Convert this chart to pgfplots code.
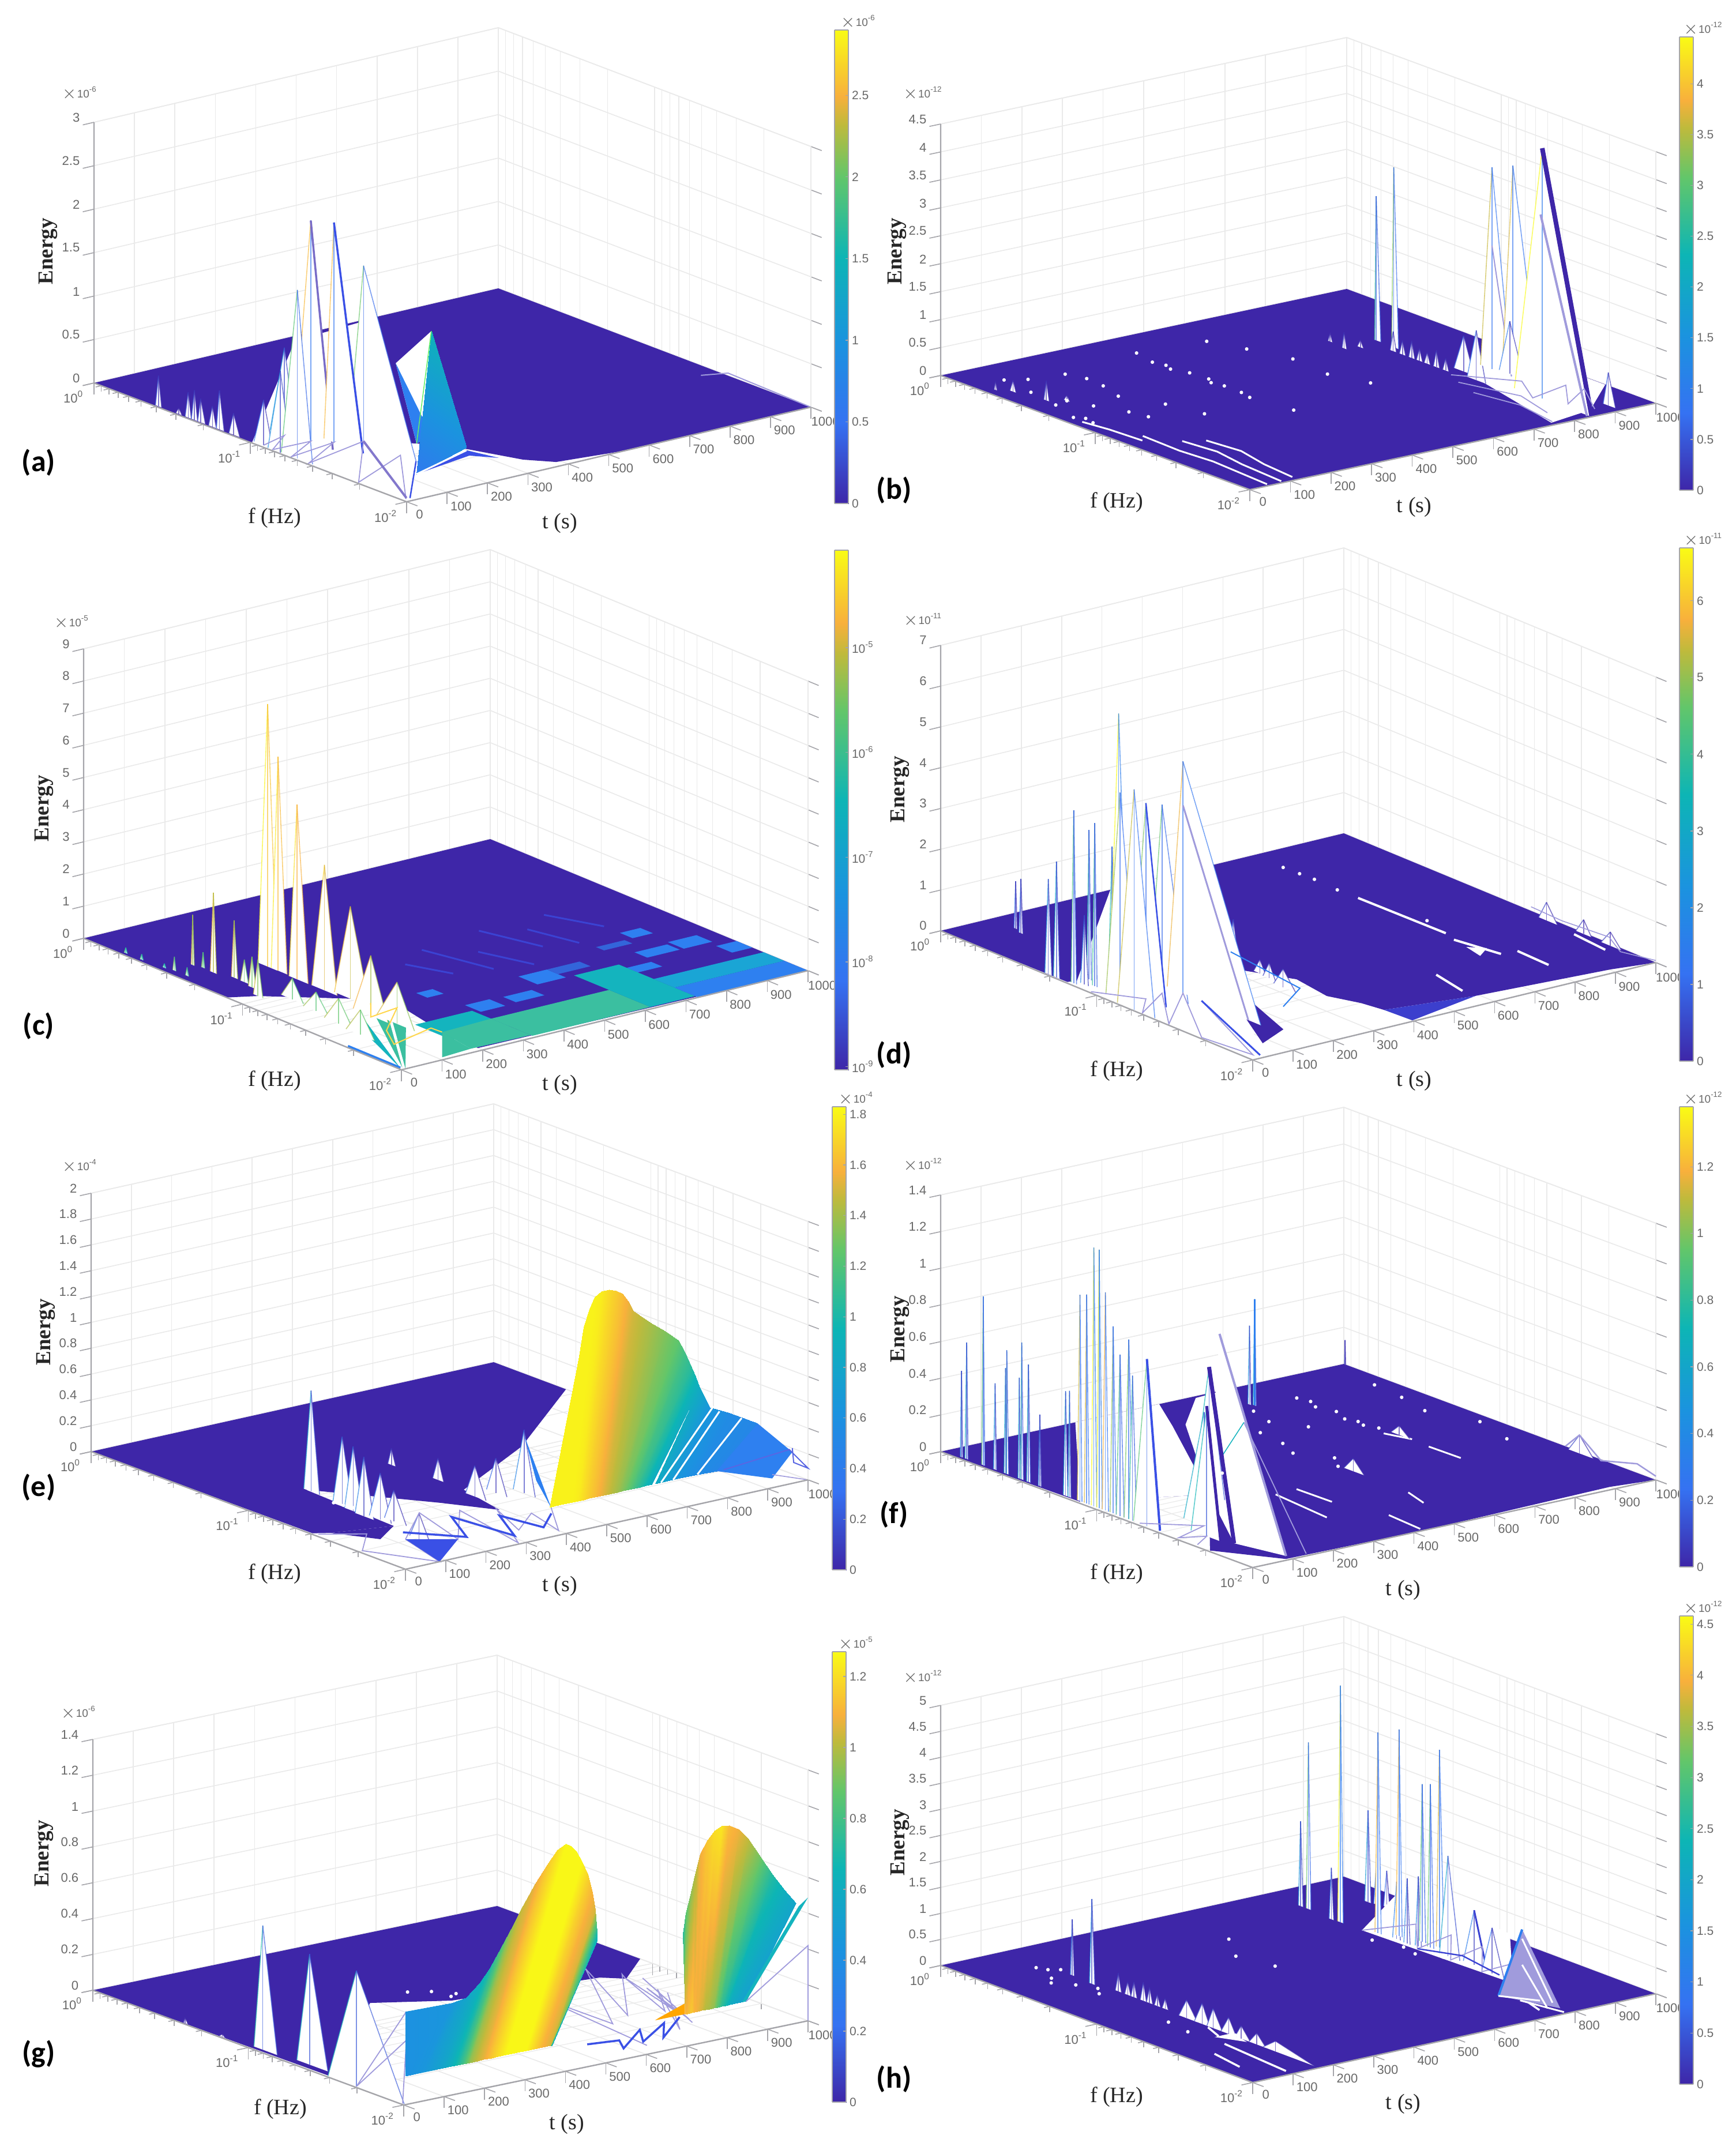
\documentclass[border=0pt]{standalone}
\usepackage{fontspec}
\setmainfont{Liberation Sans}
\newfontfamily\labelfont{Liberation Serif}
\newfontfamily\tagfont{Carlito}
\usepackage{pgfplots}
\pgfplotsset{compat=1.18}
\def\u{0.2pt}
\definecolor{base}{RGB}{62,38,168}
\definecolor{tickgray}{RGB}{105,105,105}
\definecolor{linegray}{RGB}{165,165,170}
\definecolor{gridgray}{RGB}{234,234,234}
\definecolor{lav}{RGB}{160,155,220}
\definecolor{bl}{RGB}{58,80,230}
\definecolor{cgreen}{RGB}{59,191,160}
\definecolor{cteal}{RGB}{20,180,190}
\definecolor{ccyan}{RGB}{26,165,213}
\definecolor{cblue}{RGB}{46,128,240}
\pgfplotsset{
  colormap={parula}{rgb255(0cm)=(62,38,168) rgb255(17cm)=(53,114,242) rgb255(34cm)=(27,147,223)
    rgb255(52cm)=(13,181,181) rgb255(69cm)=(98,198,106) rgb255(80cm)=(191,186,60)
    rgb255(86cm)=(248,176,60) rgb255(100cm)=(249,251,21)},
  panel/.style={
    colormap name=parula, clip=false,
    ymin=-2, ymax=0, xmin=0, xmax=1000, zmin=0,
    ytick={-2,-1,0}, yticklabels={10\textsuperscript{-2},10\textsuperscript{-1},10\textsuperscript{0}},
    minor ytick={-1.699,-1.523,-1.398,-1.301,-1.222,-1.155,-1.097,-1.046,-0.699,-0.523,-0.398,-0.301,-0.222,-0.155,-0.097,-0.046},
    xtick={0,100,...,1000},
    grid=major, yminorgrids=true,
    grid style={gridgray, line width=1.6*\u},
    minor grid style={gridgray, line width=1.2*\u},
    axis line style={gridgray, line width=1.6*\u},
    tick style={linegray, line width=1.6*\u},
    tick align=outside, major tick length=20*\u, minor tick length=10*\u,
    tick label style={font=\fontsize{4.4}{5}\selectfont, text=tickgray, inner sep=1pt},
    x tick label style={xshift=-1.2pt},
    /pgf/number format/assume math mode=true,
    /pgf/number format/1000 sep={},
    tick pos=left,
  },
  finline/.style={line width=1.6*\u, opacity=0.65},
}
% heights of the edge colours
\newcommand{\lmeta}[1]{#1}
\newcommand{\rmeta}[1]{#1*0.22}
% one spike: t, f left, f at peak, f right (log10 of f), energy
\newcommand{\fin}[5]{%
  \addplot3[fill=white, draw=none, forget plot] coordinates {(#1,#2,0) (#1,#3,#5) (#1,#4,0)};
  \addplot3[mesh, finline, point meta=\lmeta{#5}, forget plot] coordinates {(#1,#2,0) (#1,#3,#5)};
  \addplot3[mesh, finline, point meta=\rmeta{#5}, forget plot] coordinates {(#1,#3,0) (#1,#3,#5) (#1,#4,0)};
}
\newcommand{\poly}[2]{\addplot3[fill=#1, draw=none, forget plot] coordinates {#2};}
\newcommand{\seg}[3]{\addplot3[draw=#1, line width=#2*\u, forget plot] coordinates {#3};}
\newcommand{\specks}[1]{\addplot3[only marks, mark=*, mark size=2*\u, white, forget plot] coordinates {#1};}
\newcommand{\sheet}[1]{\addplot3[surf, shader=interp, point meta=explicit, mesh/rows=2, forget plot] coordinates {#1};}
\newcommand{\gtri}[1]{\addplot3[patch, patch type=triangle, shader=interp, point meta=explicit, forget plot] coordinates {#1};}
\newcommand{\cell}[5]{\poly{#1}{(#2,#4,0) (#3,#4,0) (#3,#5,0) (#2,#5,0)}}
\newcommand{\frontaxes}[1]{%
  \seg{linegray}{2.4}{(1000,-2,0) (0,-2,0) (0,0,0) (0,0,#1)}}
% colour bar: x, top, bottom, min, max, options
\newcommand{\cbar}[6]{%
  \pgfmathsetlengthmacro\cbh{(#3-#2)*0.2pt}
  \begin{axis}[at={(#1*\u,-#3*\u)}, anchor=south west, scale only axis, width=24*\u, height=\cbh,
    view={0}{90}, colormap name=parula, xmin=0, xmax=1, ymin=#4, ymax=#5, xtick=\empty, enlargelimits=false,
    axis line style={linegray, line width=1.4*\u}, tick style={linegray, line width=1.2*\u},
    ytick pos=right, yticklabel pos=right, tick align=inside, major tick length=5*\u,
    tick label style={font=\fontsize{4.2}{5}\selectfont, text=tickgray, inner sep=1pt},
    /pgf/number format/assume math mode=true, point meta min=#4, point meta max=#5, #6]
    \addplot3[surf, shader=interp, point meta=y] coordinates {(0,#4,0) (1,#4,0)

    (0,#5,0) (1,#5,0)};
  \end{axis}}
\newcommand{\lab}[6]{% energy x y, f x y, t x y
  \node[rotate=90, font=\fontsize{7.4}{8}\selectfont\labelfont\bfseries, text=black!85] at (#1*\u,-#2*\u) {Energy};
  \node[font=\fontsize{7.6}{8}\selectfont\labelfont, text=black!85] at (#3*\u,-#4*\u) {f (Hz)};
  \node[font=\fontsize{7.6}{8}\selectfont\labelfont, text=black!85] at (#5*\u,-#6*\u) {t (s)};}
\newcommand{\ptag}[3]{\node[font=\fontsize{10.4}{11}\selectfont\tagfont\bfseries] at (#1*\u,-#2*\u) {#3};}
\newcommand{\expo}[3]{\node[font=\fontsize{3.8}{4}\selectfont, text=tickgray] at (#1*\u,-#2*\u) {$\times$10\textsuperscript{#3}};}
\begin{document}
\begin{tikzpicture}
\path[use as bounding box, fill=white] (0,0) rectangle (3010*\u,-3735*\u);
% ---------------------- (a)
\begin{axis}[panel, at={(163*\u,-48*\u)}, anchor=north west,
  x={(0.701*\u,0.164*\u)}, y={(-271*\u,103*\u)}, z={(0,150.67*\u)}, zmax=3,
  ztick={0,0.5,1,1.5,2,2.5,3}, point meta min=0, point meta max=2.9]
\poly{base}{(0,0,0) (1000,0,0) (1000,-2,0) (540,-2,0) (389,-1.95,0) (348,-1.845,0) (305,-1.6,0) (250,-1.417,0) (178,-1.264,0) (97,-1.136,0) (80,-1.011,0) (0,-1,0)}
\seg{lav}{2}{(960,-1.4,0) (1000,-1.47,0.03) (1000,-2,0)}
\poly{white}{(478,-0.05,0) (685,-0.01,0) (178,-1.6,0) (5,-1.98,0) (5,-1.0,0)}
\poly{bl}{(127,-1.736,0) (299,-1.61,0) (318,-1.768,0) (282,-1.672,0)}
\poly{white}{(200,-1.413,0.975) (305,-1.369,1.2) (305,-1.369,0) (250,-1.417,0)}
\poly{cblue}{(200,-1.413,0.975) (250,-1.417,0) (305,-1.369,0)}
\gtri{(305,-1.369,1.2) [1.45] (310,-1.581,0) [0.95] (127,-1.736,0) [0.6]
 (305,-1.369,1.2) [1.45] (127,-1.736,0) [0.6] (305,-1.369,0) [0.85]}
\seg{white}{3}{(299,-1.61,0) (127,-1.736,0)}
\seg{black!10!green!60!white}{1.5}{(305,-1.369,1.2) (250,-1.417,0)}
\fin{5}{-0.38}{-0.40}{-0.42}{0.35}
\fin{5}{-0.51}{-0.53}{-0.55}{0.07}
\fin{5}{-0.57}{-0.59}{-0.61}{0.29}
\fin{5}{-0.61}{-0.63}{-0.65}{0.34}
\fin{5}{-0.65}{-0.67}{-0.70}{0.27}
\fin{5}{-0.72}{-0.745}{-0.77}{0.235}
\fin{5}{-0.77}{-0.79}{-0.82}{0.447}
\fin{5}{-0.85}{-0.88}{-0.92}{0.247}
\fin{80}{-0.92}{-1.011}{-1.09}{1.01}
\fin{97}{-1.03}{-1.136}{-1.277}{2.54}
\seg{lav!60!base}{3.5}{(97,-1.136,2.54) (97,-1.277,0)}
\fin{178}{-1.17}{-1.264}{-1.6}{2.02}
\fin{128}{-1.14}{-1.204}{-1.39}{2.53}
\seg{bl}{3.5}{(128,-1.204,2.53) (128,-1.39,0)}
\fin{9}{-1.0}{-1.062}{-1.12}{0.52}
\fin{5}{-1.1}{-1.179}{-1.25}{0.94}
\fin{7}{-1.18}{-1.283}{-1.38}{1.94}
\seg{lav}{1.8}{(9,-1.062,0) (80,-1.011,0) (5,-1.13,0) (97,-1.136,0) (5,-1.25,0) (128,-1.204,0) (5,-1.36,0) (178,-1.264,0) (5,-1.68,0) (178,-1.5,0) (10,-1.97,0)}
\seg{lav!70!base}{4}{(178,-1.264,0) (15,-1.96,0)}
\seg{bl}{2.5}{(178,-1.6,0) (20,-1.97,0)}
\frontaxes{3}
\end{axis}
\cbar{1447}{52}{873}{0}{2.9}{ytick={0,0.5,1,1.5,2,2.5}}
\expo{1488}{38}{-6}\expo{138}{162}{-6}
\lab{83}{436}{476}{898}{971}{907}\ptag{67}{802}{(a)}
% ---------------------- (b)
\begin{axis}[panel, at={(1631*\u,-65*\u)}, anchor=north west,
  x={(0.704*\u,0.150*\u)}, y={(-268*\u,99*\u)}, z={(0,96.9*\u)}, zmax=4.5,
  ztick={0,0.5,1,1.5,2,2.5,3,3.5,4,4.5}, point meta min=0, point meta max=4.46]
\poly{base}{(0,0,0) (1000,0,0) (1000,-2,0) (0,-2,0)}
\poly{white}{(1000,-0.78,0) (999,-1.675,0) (869,-1.92,0) (754,-1.97,0) (830,-1.25,0) (1000,-0.95,0)}
\poly{base}{(1000,-1.72,0) (1000,-2,0) (930,-1.97,0)}
\specks{(401,-0.214,0) (387,-0.353,0) (386,-0.473,0) (404,-0.673,0) (399,-0.787,0) (390,-0.975,0) (405,-1.22,0) (395,-0.42,0) (400,-0.56,0) (392,-0.72,0) (398,-0.9,0)
 (200,-0.28,0) (210,-0.5,0) (190,-0.65,0) (230,-0.85,0) (250,-1.05,0) (215,-0.38,0) (560,-0.25,0) (590,-0.43,0) (620,-0.65,0) (610,-0.9,0) (640,-1.1,0) (90,-0.58,0) (38,-0.886,0) (45,-0.82,0) (30,-0.78,0) (120,-0.25,0) (80,-0.2,0) (70,-0.4,0) (55,-0.6,0) (110,-0.7,0) (140,-0.85,0) (150,-0.95,0)}
\seg{white}{3}{(60,-1.15,0) (55,-1.4,0) (62,-1.6,0) (50,-1.98,0)

(100,-1.3,0) (110,-1.5,0) (95,-1.7,0) (85,-1.98,0)

(140,-1.35,0) (150,-1.55,0) (130,-1.75,0) (120,-1.96,0)

(25,-0.85,0) (35,-1.0,0) (40,-1.2,0)}
\fin{60}{-0.51}{-0.526}{-0.545}{0.35}
\fin{45}{-0.33}{-0.35}{-0.37}{0.2}
\fin{25}{-0.28}{-0.29}{-0.30}{0.15}
\fin{90}{-0.56}{-0.58}{-0.60}{0.1}
\fin{752}{-0.53}{-0.544}{-0.56}{0.15}
\fin{745}{-0.64}{-0.653}{-0.67}{0.285}
\fin{775}{-0.66}{-0.68}{-0.70}{0.13}
\fin{829}{-0.63}{-0.64}{-0.67}{2.58}
\fin{827}{-0.745}{-0.759}{-0.79}{3.22}
\fin{810}{-0.78}{-0.80}{-0.82}{0.35}
\fin{810}{-0.84}{-0.86}{-0.88}{0.25}
\fin{810}{-0.90}{-0.92}{-0.94}{0.3}
\fin{810}{-0.95}{-0.97}{-0.99}{0.22}
\fin{810}{-1.0}{-1.02}{-1.04}{0.2}
\fin{810}{-1.06}{-1.08}{-1.10}{0.3}
\fin{810}{-1.12}{-1.14}{-1.16}{0.22}
\fin{834}{-1.13}{-1.193}{-1.26}{0.64}
\fin{817}{-1.26}{-1.319}{-1.38}{0.89}
\fin{916}{-1.88}{-1.913}{-1.96}{0.59}
\fin{888}{-1.16}{-1.234}{-1.36}{3.61}
\seg{lav}{2}{(888,-1.234,2.21) (888,-1.36,0)}
\fin{911}{-1.24}{-1.309}{-1.48}{3.68}
\fin{896}{-1.26}{-1.328}{-1.42}{0.94}
\fin{842}{-1.5}{-1.68}{-2}{4.48}
\seg{base}{8}{(842,-1.68,4.48) (842,-2,0)}
\seg{lav}{4}{(838,-1.68,3.3) (838,-1.98,0)}
\seg{lav}{1.8}{(800,-1.2,0) (860,-1.5,0.1) (830,-1.65,0) (900,-1.68,0.15) (860,-1.8,0) (930,-1.72,0.08) (880,-1.92,0)

(780,-1.3,0) (820,-1.6,0) (790,-1.85,0)

(760,-1.45,0) (780,-1.7,0) (760,-1.96,0)}
\frontaxes{4.5}
\end{axis}
\cbar{2912}{64}{850}{0}{4.46}{ytick={0,0.5,1,1.5,2,2.5,3,3.5,4}}
\expo{2953}{50}{-12}\expo{1600}{162}{-12}
\lab{1555}{436}{1936}{871}{2452}{879}\ptag{1550}{850}{(b)}
% ---------------------- (c)
\begin{axis}[panel, at={(145*\u,-953*\u)}, anchor=north west,
  x={(0.705*\u,0.172*\u)}, y={(-275.5*\u,114*\u)}, z={(0,55.78*\u)}, zmax=9,
  ztick={0,1,2,3,4,5,6,7,8,9}, point meta min=-9.03, point meta max=-4.07]
\renewcommand{\lmeta}[1]{log10(#1)-5.05}
\renewcommand{\rmeta}[1]{log10(#1)-5.5}
\poly{base}{(0,0,0) (1000,0,0) (1000,-2,0) (200,-1.97,0) (204,-1.734,0) (232,-1.436,0) (187,-1.2,0) (54,-0.959,0) (0,-0.9,0)}
\cell{cblue}{530}{600}{-1.5}{-1.38}
\cell{cblue}{430}{500}{-1.62}{-1.54}
\cell{cblue}{340}{400}{-1.63}{-1.53}
\cell{cblue}{730}{790}{-1.62}{-1.55}
\cell{cblue}{800}{880}{-1.5}{-1.42}
\cell{cblue}{890}{960}{-1.5}{-1.4}
\cell{cblue}{950}{1000}{-1.65}{-1.55}
\cell{cblue}{850}{900}{-1.28}{-1.2}
\cell{cblue}{310}{350}{-1.37}{-1.3}
\cell{cblue!70!base}{600}{680}{-1.45}{-1.38}
\cell{cblue!70!base}{760}{830}{-1.33}{-1.28}
\seg{bl!70!base}{3}{(400,-1.0,0) (440,-1.2,0)

(480,-0.9,0) (520,-1.25,0)

(560,-1.05,0) (600,-1.3,0)

(640,-0.85,0) (680,-1.15,0)

(720,-0.95,0) (750,-1.2,0)

(800,-0.85,0) (850,-1.1,0)}
\cell{cteal}{190}{330}{-1.83}{-1.6}
\cell{cgreen}{330}{620}{-1.98}{-1.72}
\cell{cteal}{620}{730}{-1.98}{-1.5}
\cell{cblue}{730}{1000}{-2}{-1.85}
\cell{ccyan}{730}{1000}{-1.85}{-1.72}
\poly{cgreen}{(204,-1.734,0) (110,-1.975,0) (186,-1.96,0)}
\poly{cgreen}{(186,-1.96,0) (204,-1.734,0) (330,-1.72,0) (330,-1.97,0)}
\poly{cgreen}{(10,-2,0) (206,-1.397,0) (232,-1.436,0)}
\poly{cgreen}{(10,-1.98,0) (163,-1.417,0) (192,-1.418,0)}
\poly{cteal}{(5,-1.98,0) (102,-1.452,0) (127,-1.448,0)}
\seg{cblue}{5}{(5,-1.65,0) (5,-1.98,0)}
\fin{10}{-0.23}{-0.24}{-0.25}{0.17}
\fin{10}{-0.33}{-0.34}{-0.35}{0.17}
\fin{15}{-0.46}{-0.47}{-0.48}{0.13}
\fin{20}{-0.51}{-0.52}{-0.53}{0.43}
\fin{20}{-0.59}{-0.60}{-0.61}{0.26}
\fin{69}{-0.50}{-0.51}{-0.52}{1.56}
\fin{75}{-0.55}{-0.56}{-0.57}{0.48}
\fin{179}{-0.64}{-0.70}{-0.76}{8.16}
\fin{180}{-0.72}{-0.763}{-0.82}{6.65}
\fin{73}{-0.61}{-0.63}{-0.65}{2.48}
\fin{86}{-0.71}{-0.727}{-0.75}{1.78}
\fin{177}{-0.84}{-0.89}{-0.96}{5.43}
\fin{85}{-0.77}{-0.794}{-0.82}{0.7}
\fin{77}{-0.84}{-0.862}{-0.89}{0.955}
\fin{178}{-0.98}{-1.06}{-1.14}{3.9}
\fin{54}{-0.93}{-0.959}{-0.99}{1.13}
\fin{187}{-1.1}{-1.2}{-1.32}{2.87}
\fin{95}{-1.0}{-1.07}{-1.14}{0.65}
\fin{155}{-1.3}{-1.41}{-1.52}{1.87}
\fin{87}{-1.16}{-1.24}{-1.32}{0.6}
\fin{165}{-1.42}{-1.55}{-1.66}{1.3}
\fin{76}{-1.32}{-1.41}{-1.5}{0.78}
\fin{67}{-1.48}{-1.57}{-1.66}{0.78}
\seg{orange!45!yellow!70!white}{2}{(155,-1.41,0.4) (120,-1.5,0.25) (165,-1.55,0.5) (100,-1.65,0.2) (60,-1.8,0.2) (190,-1.7,0.1) (204,-1.734,0)}
\frontaxes{9}
\end{axis}
\renewcommand{\lmeta}[1]{#1}
\renewcommand{\rmeta}[1]{#1*0.22}
\cbar{1447}{954}{1855}{-9.03}{-4.07}{ytick={-9,-8,-7,-6,-5}, yticklabels={10\textsuperscript{-9},10\textsuperscript{-8},10\textsuperscript{-7},10\textsuperscript{-6},10\textsuperscript{-5}}}
\expo{124}{1079}{-5}
\lab{76}{1402}{476}{1874}{971}{1881}\ptag{67}{1779}{(c)}
% ---------------------- (d)
\begin{axis}[panel, at={(1631*\u,-950*\u)}, anchor=north west,
  x={(0.699*\u,0.169*\u)}, y={(-270.5*\u,112*\u)}, z={(0,70.71*\u)}, zmax=7,
  ztick={0,1,2,3,4,5,6,7}, point meta min=0, point meta max=6.69]
\poly{base}{(0,0,0) (1000,0,0) (1000,-2,0) (902,-1.96,0) (592,-1.9,0) (395,-1.82,0) (385,-1.7,0) (358,-1.55,0) (374,-1.315,0) (325,-1.107,0) (144,-1.18,0) (49,-0.82,0) (5,-0.8,0)}
\poly{white}{(421,0,0) (625,0,0) (43,-1.94,0) (5,-1.98,0) (5,-0.85,0)}
\poly{base}{(282,-1.024,0) (164,-1.773,0) (79,-1.86,0) (245,-1.165,0)}
\poly{bl!60!base}{(395,-1.82,0) (592,-1.9,0) (400,-1.99,0)}
\seg{white}{4}{(778,-0.665,0) (782,-1.217,0)

(827,-1.56,0) (823,-1.77,0)

(979,-1.53,0) (969,-1.756,0)

(770,-1.3,0) (790,-1.55,0)

(610,-1.6,0) (590,-1.82,0)}
\poly{white}{(762,-1.4,0) (790,-1.46,0) (750,-1.52,0)}
\specks{(776,-0.19,0) (778,-0.29,0) (780,-0.38,0) (776,-0.537,0) (440,-0.4,0) (450,-0.52,0) (800,-1.05,0)}
\fin{988}{-1.28}{-1.33}{-1.4}{0.445}
\fin{995}{-1.5}{-1.55}{-1.6}{0.35}
\fin{992}{-1.67}{-1.729}{-1.8}{0.34}
\seg{lav}{1.6}{(1000,-1.2,0.1) (980,-1.45,0.2) (1000,-1.7,0.15) (970,-1.85,0.1) (1000,-2,0.05)}
\fin{126}{-0.145}{-0.155}{-0.165}{1.16}
\fin{117}{-0.20}{-0.212}{-0.225}{1.33}
\fin{367}{-0.77}{-0.804}{-0.84}{1.75}
\fin{349}{-0.94}{-0.974}{-1.01}{0.99}
\fin{330}{-0.91}{-0.945}{-0.98}{0.51}
\fin{339}{-1.13}{-1.17}{-1.21}{0.34}
\fin{335}{-1.2}{-1.24}{-1.28}{0.38}
\fin{323}{-1.3}{-1.36}{-1.44}{0.45}
\fin{5}{-0.655}{-0.677}{-0.70}{2.33}
\fin{5}{-0.71}{-0.729}{-0.75}{2.84}
\fin{49}{-0.81}{-0.824}{-0.84}{3.66}
\fin{10}{-0.81}{-0.827}{-0.845}{4.24}
\fin{22}{-0.84}{-0.864}{-0.89}{1.7}
\fin{32}{-0.89}{-0.905}{-0.92}{4.0}
\fin{44}{-0.96}{-0.985}{-1.01}{3.52}
\fin{111}{-1.05}{-1.132}{-1.3}{4.62}
\fin{144}{-1.08}{-1.181}{-1.68}{5.68}
\seg{lav}{3}{(144,-1.181,4.6) (144,-1.6,0)}
\fin{39}{-0.98}{-1.04}{-1.1}{6.88}
\fin{23}{-1.0}{-1.09}{-1.2}{5.06}
\fin{64}{-1.06}{-1.15}{-1.28}{4.8}
\seg{bl}{2.5}{(64,-1.15,4.8) (64,-1.28,0)}
\fin{5}{-1.12}{-1.227}{-1.36}{5.4}
\seg{lav}{1.8}{(5,-0.95,0) (64,-1.15,0) (5,-1.28,0) (111,-1.132,0) (5,-1.45,0) (144,-1.181,0) (5,-1.66,0) (20,-1.95,0) (144,-1.3,0)}
\seg{bl}{3}{(144,-1.3,0) (30,-1.97,0)}
\seg{cblue}{2}{(282,-1.13,0.6) (330,-1.45,0.1) (250,-1.55,0)}
\frontaxes{7}
\end{axis}
\cbar{2912}{950}{1840}{0}{6.69}{ytick={0,1,2,3,4,5,6}}
\expo{2953}{936}{-11}\expo{1600}{1075}{-11}
\lab{1560}{1369}{1936}{1857}{2452}{1874}\ptag{1550}{1829}{(d)}
% ---------------------- (e)
\begin{axis}[panel, at={(158*\u,-1914*\u)}, anchor=north west,
  x={(0.698*\u,0.155*\u)}, y={(-272.5*\u,102*\u)}, z={(0,224*\u)}, zmax=2,
  ztick={0,0.2,0.4,0.6,0.8,1,1.2,1.4,1.6,1.8,2}, point meta min=0, point meta max=1.83]
\poly{base}{(0,0,0) (1000,0,0) (1000,-0.46,0) (693,-0.965,0) (422,-1.29,0) (394,-1.59,0) (332,-1.377,0) (176,-0.916,0) (162,-1.51,0) (35,-1.436,0) (5,-1.396,0)}
\poly{base}{(35,-1.436,0) (162,-1.51,0) (86,-1.62,0)}
\specks{(170,-1.17,0) (175,-1.22,0) (165,-1.12,0)}
\fin{177}{-0.9}{-0.946}{-1.0}{0.78}
\fin{413}{-0.83}{-0.853}{-0.88}{0.128}
\fin{423}{-1.09}{-1.124}{-1.16}{0.167}
\fin{163}{-1.12}{-1.18}{-1.25}{0.54}
\fin{161}{-1.2}{-1.255}{-1.32}{0.5}
\fin{156}{-1.28}{-1.336}{-1.4}{0.46}
\fin{168}{-1.34}{-1.41}{-1.48}{0.36}
\fin{182}{-1.4}{-1.46}{-1.54}{0.24}
\fin{411}{-1.33}{-1.389}{-1.46}{0.24}
\fin{459}{-1.34}{-1.40}{-1.47}{0.27}
\fin{502}{-1.4}{-1.469}{-1.54}{0.49}
\fin{147}{-1.65}{-1.71}{-1.78}{0.2}
\seg{lav}{1.8}{(125,-1.68,0) (257,-1.43,0) (207,-1.804,0) (330,-1.5,0) (286,-1.985,0) (392,-1.576,0) (340,-1.85,0) (430,-1.7,0) (400,-1.95,0) (483,-1.69,0)

(10,-1.42,0) (60,-1.6,0.05) (10,-1.7,0) (85,-2,0) (125,-1.68,0)}
\poly{bl}{(125,-1.68,0) (85,-2,0) (207,-1.804,0)}
\seg{bl}{3.5}{(150,-1.6,0) (230,-1.8,0) (290,-1.55,0) (310,-1.9,0) (370,-1.65,0) (390,-1.88,0) (460,-1.75,0)}
\poly{cblue}{(502,-1.469,0.45) (483,-1.69,0) (520,-1.5,0.1)}
\seg{cgreen}{1.5}{(548,-1.68,0.915) (483,-1.69,0)}
\sheet{(483,-1.68,0) [1.8] (497,-1.68,0) [1.8] (511,-1.68,0) [1.8] (525,-1.68,0) [1.8] (539,-1.68,0) [1.8] (553,-1.68,0) [1.78] (567,-1.68,0) [1.72] (581,-1.68,0) [1.67] (595,-1.68,0) [1.62] (609,-1.68,0) [1.56] (623,-1.68,0) [1.5] (637,-1.68,0) [1.45] (651,-1.68,0) [1.4] (665,-1.68,0) [1.33] (680,-1.68,0) [1.25] (694,-1.68,0) [1.15] (708,-1.68,0) [1.05] (722,-1.68,0) [0.95] (736,-1.68,0) [0.85]
 (548,-1.68,0.915) [1.8] (557,-1.68,1.138) [1.8] (568,-1.68,1.335) [1.8] (582,-1.68,1.467) [1.8] (595,-1.68,1.549) [1.8] (612,-1.68,1.582) [1.78] (630,-1.68,1.585) [1.72] (648,-1.68,1.562) [1.67] (664,-1.68,1.527) [1.62] (678,-1.68,1.459) [1.56] (691,-1.68,1.375) [1.5] (715,-1.68,1.306) [1.45] (740,-1.68,1.24) [1.4] (770,-1.68,1.165) [1.33] (802,-1.68,1.07) [1.25] (819,-1.68,0.969) [1.15] (836,-1.68,0.84) [1.05] (846,-1.68,0.759) [0.95] (856,-1.68,0.67) [0.85]}
\sheet{(745,-1.68,0) [0.85] (800,-1.68,0) [0.65] (850,-1.68,0) [0.55] (894,-1.69,0) [0.5]
 (856,-1.68,0.67) [0.85] (880,-1.68,0.5) [0.65] (930,-1.68,0.42) [0.55] (1000,-1.68,0.29) [0.5]}
\seg{white}{3}{(760,-1.68,0) (890,-1.68,0.5)

(790,-1.68,0) (905,-1.68,0.45)

(850,-1.68,0) (960,-1.68,0.36)}
\poly{cblue}{(894,-1.69,0) (1000,-1.68,0.29) (1000,-1.9,0.17) (950,-1.9,0)}
\seg{bl!70!lav}{2}{(900,-1.72,0.02) (1000,-1.88,0.18) (1000,-2,0.09) (980,-1.96,0.13) (1000,-1.9,0.2)}
\seg{lav}{1.6}{(950,-1.9,0.03) (1000,-2,0)}
\frontaxes{2}
\end{axis}
\cbar{1443}{1919}{2722}{0}{1.83}{ytick={0,0.2,0.4,0.6,0.8,1,1.2,1.4,1.6,1.8}}
\expo{1484}{1905}{-4}\expo{138}{2022}{-4}
\lab{79}{2310}{476}{2729}{971}{2750}\ptag{67}{2579}{(e)}
% ---------------------- (f)
\begin{axis}[panel, at={(1631*\u,-1920*\u)}, anchor=north west,
  x={(0.699*\u,0.152*\u)}, y={(-270.5*\u,100.5*\u)}, z={(0,317.9*\u)}, zmax=1.4,
  ztick={0,0.2,0.4,0.6,0.8,1,1.2,1.4}, point meta min=0, point meta max=1.38]
\poly{base}{(0,0,0) (1000,0,0) (1000,-2,0) (899,-1.967,0) (420,-2,0) (88,-1.985,0) (5,-1.714,0) (240,-1.1,0) (7,-0.876,0)}
\poly{white}{(334,0,0) (542,0,0) (470,-0.272,0) (240,-1.1,0) (7,-0.876,0)}
\poly{white}{(625,-0.02,0) (717,0,0) (266,-1.1,0) (240,-1.1,0) (497,-0.285,0)}
\poly{base}{(240,-1.1,0) (5,-1.714,0) (73,-1.692,0) (236,-1.143,0)}
\specks{(783,-0.259,0) (790,-0.33,0) (775,-0.4,0) (788,-0.5,0) (773,-0.712,0) (780,-0.66,0) (785,-0.78,0) (770,-0.6,0) (560,-0.4,0) (580,-0.55,0) (570,-0.72,0) (545,-0.85,0) (590,-1.0,0) (560,-1.1,0) (350,-0.9,0) (370,-1.02,0) (340,-1.12,0) (960,-0.3,0) (950,-0.5,0) (930,-0.7,0) (970,-0.95,0) (940,-1.2,0) (620,-0.2,0) (660,-0.3,0) (640,-0.45,0) (680,-0.6,0)}
\seg{white}{3}{(399,-1.25,0) (401,-1.472,0)

(344,-1.258,0) (327,-1.63,0)

(434,-1.751,0) (425,-1.976,0)

(560,-1.55,0) (540,-1.7,0)

(770,-0.85,0) (790,-0.98,0)

(785,-1.1,0) (787,-1.3,0)}
\fin{788}{-0.85}{-0.903}{-0.97}{0.05}
\fin{563}{-1.13}{-1.19}{-1.26}{0.07}
\fin{992}{-1.46}{-1.531}{-1.62}{0.1}
\seg{lav}{2.5}{(1000,-1.42,0) (992,-1.531,0.1) (980,-1.7,0.02) (1000,-1.88,0.05) (1000,-2,0.02)}
\fin{1000}{-0.004}{-0.008}{-0.012}{0.133}
\fin{686}{-0.23}{-0.24}{-0.25}{0.58}
\fin{682}{-0.207}{-0.217}{-0.227}{0.43}
\seg{cblue}{3}{(686,-0.24,0.58) (686,-0.24,0)}
\poly{white}{(266,-1.1,0.863) (101,-1.953,0) (73,-1.692,0) (240,-1.1,0)}
\seg{lav}{4}{(266,-1.1,0.863) (101,-1.953,0)}
\seg{lav}{1.8}{(304,-1.158,0.38) (142,-1.976,0)}
\seg{cteal}{1.5}{(304,-1.158,0.38) (240,-1.1,0.1)}
\fin{240}{-1.0}{-1.1}{-1.2}{0.695}
\seg{base}{7}{(240,-1.1,0.695) (73,-1.692,0)}
\fin{10}{-0.10}{-0.108}{-0.116}{0.47}
\fin{10}{-0.13}{-0.141}{-0.15}{0.635}
\fin{10}{-0.237}{-0.247}{-0.257}{0.92}
\fin{10}{-0.313}{-0.323}{-0.333}{0.47}
\fin{10}{-0.38}{-0.39}{-0.395}{0.574}
\fin{10}{-0.395}{-0.398}{-0.41}{0.674}
\fin{10}{-0.47}{-0.478}{-0.486}{0.55}
\fin{10}{-0.486}{-0.494}{-0.505}{0.747}
\fin{10}{-0.525}{-0.537}{-0.55}{0.64}
\fin{10}{-0.6}{-0.61}{-0.62}{0.39}
\fin{10}{-0.76}{-0.775}{-0.79}{0.57}
\fin{10}{-0.79}{-0.80}{-0.81}{0.58}
\fin{10}{-0.85}{-0.867}{-0.88}{1.125}
\fin{10}{-0.895}{-0.91}{-0.925}{1.14}
\fin{10}{-0.94}{-0.956}{-0.975}{1.41}
\fin{10}{-0.975}{-0.99}{-1.01}{1.41}
\fin{10}{-1.01}{-1.03}{-1.05}{1.19}
\fin{10}{-1.06}{-1.08}{-1.1}{1.02}
\fin{10}{-1.1}{-1.124}{-1.15}{0.88}
\fin{10}{-1.15}{-1.18}{-1.21}{0.98}
\fin{10}{-1.18}{-1.204}{-1.23}{0.79}
\fin{10}{-1.21}{-1.296}{-1.38}{0.91}
\seg{bl}{4}{(10,-1.296,0.91) (10,-1.38,0)}
\fin{100}{-1.3}{-1.43}{-1.52}{0.62}
\fin{60}{-1.45}{-1.55}{-1.64}{0.71}
\seg{base}{5}{(60,-1.55,0.71) (60,-1.64,0)}
\seg{lav}{1.8}{(10,-1.25,0) (100,-1.43,0) (10,-1.5,0) (60,-1.55,0) (10,-1.62,0)}
\frontaxes{1.4}
\end{axis}
\cbar{2912}{1919}{2717}{0}{1.38}{ytick={0,0.2,0.4,0.6,0.8,1,1.2}}
\expo{2953}{1905}{-12}\expo{1600}{2020}{-12}
\lab{1560}{2305}{1936}{2729}{2433}{2757}\ptag{1550}{2626}{(f)}
% ---------------------- (g)
\begin{axis}[panel, at={(161*\u,-2870*\u)}, anchor=north west,
  x={(0.701*\u,0.146*\u)}, y={(-269.5*\u,99.5*\u)}, z={(0,310.7*\u)}, zmax=1.4,
  ztick={0,0.2,0.4,0.6,0.8,1,1.2,1.4}, point meta min=0, point meta max=1.27]
\poly{base}{(0,0,0) (1000,0,0) (1000,-0.92,0) (893,-1.109,0) (856,-1.035,0) (523,-0.948,0) (384,-0.785,0) (7,-1.508,0)}
\specks{(490,-0.75,0) (530,-0.8,0) (540,-0.9,0) (560,-0.88,0)}
\fin{5}{-0.57}{-0.58}{-0.6}{0.03}
\fin{5}{-0.8}{-0.82}{-0.84}{0.015}
\fin{14}{-1.0}{-1.057}{-1.15}{0.693}
\fin{24}{-1.25}{-1.332}{-1.45}{0.617}
\fin{5}{-1.5}{-1.683}{-1.99}{0.646}
\seg{lav}{1.8}{(5,-1.683,0) (128,-1.684,0.2) (5,-1.98,0)

(5,-1.683,0) (128,-1.684,0.36)}
\poly{ccyan}{(128,-1.684,0) (128,-1.684,0.36) (241,-1.684,0.354) (200,-1.684,0)}
\seg{lav}{1.8}{(600,-1.35,0.1) (640,-1.68,0.05) (680,-1.4,0.25) (700,-1.62,0.05) (790,-1.35,0.15) (740,-1.5,0.2) (800,-1.6,0.02) (820,-1.5,0.1) (760,-1.8,0) (860,-1.46,0.05)

(893,-1.109,0) (830,-1.6,0) (870,-1.3,0.02) (820,-1.7,0) (860,-1.3,0.08) (810,-1.75,0)

(640,-1.9,0) (600,-1.35,0.1)}
\seg{bl}{3.5}{(550,-1.75,0) (610,-1.8,0.01) (590,-1.88,0) (680,-1.75,0.02) (650,-1.85,0) (740,-1.75,0.03) (700,-1.85,0) (790,-1.72,0.03)}
\sheet{(128,-1.68,0) [0.42] (170,-1.68,0) [0.45] (220,-1.68,0) [0.55] (240,-1.68,0) [0.62] (255,-1.68,0) [0.7] (270,-1.68,0) [0.8] (285,-1.68,0) [0.95] (305,-1.68,0) [1.03] (320,-1.68,0) [1.07] (340,-1.68,0) [1.15] (355,-1.68,0) [1.2] (375,-1.68,0) [1.26] (390,-1.68,0) [1.26] (410,-1.68,0) [1.26] (425,-1.68,0) [1.26] (445,-1.68,0) [1.18] (465,-1.68,0) [1.1] (485,-1.68,0) [1.05] (490,-1.68,0) [0.6]
 (128,-1.68,0.36) [0.42] (241,-1.68,0.354) [0.45] (277,-1.68,0.367) [0.55] (312,-1.68,0.434) [0.62] (336,-1.68,0.502) [0.7] (359,-1.68,0.585) [0.8] (389,-1.68,0.698) [0.95] (419,-1.68,0.813) [1.03] (448,-1.68,0.924) [1.07] (478,-1.68,1.016) [1.15] (502,-1.68,1.085) [1.2] (524,-1.68,1.11) [1.26] (537,-1.68,1.091) [1.26] (549,-1.68,1.055) [1.26] (564,-1.68,0.991) [1.26] (578,-1.68,0.913) [1.18] (590,-1.68,0.808) [1.1] (596,-1.68,0.704) [1.05] (602,-1.68,0.54) [0.6]}
\poly{orange!70!yellow}{(760,-1.64,0) (834,-1.64,0) (834,-1.64,0.06) (770,-1.64,0.01)}
\sheet{(834,-1.64,0) [1.1] (840,-1.64,0) [1.12] (850,-1.64,0) [1.15] (858,-1.64,0) [1.1] (865,-1.64,0) [1.08] (875,-1.64,0) [1.05] (885,-1.64,0) [1.0] (895,-1.64,0) [0.98] (905,-1.64,0) [0.95] (915,-1.64,0) [0.85] (925,-1.64,0) [0.75] (935,-1.64,0) [0.68] (945,-1.64,0) [0.6] (965,-1.64,0) [0.55] (985,-1.64,0) [0.5]
 (829,-1.64,0.45) [0.72] (836.5,-1.64,0.563) [0.85] (849,-1.64,0.672) [0.95] (860,-1.64,0.782) [1.0] (872,-1.64,0.878) [1.08] (890,-1.64,0.947) [1.15] (907,-1.64,0.99) [1.2] (925,-1.64,1.007) [1.22] (943,-1.64,1.003) [1.12] (967,-1.64,0.969) [1.08] (990,-1.64,0.907) [1.02] (1000,-1.692,0.819) [0.9] (1000,-1.77,0.743) [0.72] (1000,-1.846,0.683) [0.62] (1000,-1.922,0.633) [0.55]}
\poly{cteal}{(985,-1.64,0) (1000,-2,0.688) (1000,-1.94,0.62) (975,-1.64,0)}
\seg{lav}{1.8}{(1000,-2,0.42) (985,-1.64,0) (1000,-2,0.42) (1000,-2,0)}
\frontaxes{1.4}
\end{axis}
\cbar{1443}{2864}{3645}{0}{1.27}{ytick={0,0.2,0.4,0.6,0.8,1,1.2}}
\expo{1484}{2850}{-5}\expo{136}{2970}{-6}
\lab{76}{3214}{486}{3657}{983}{3683}\ptag{67}{3562}{(g)}
% ---------------------- (h)
\begin{axis}[panel, at={(1631*\u,-2803*\u)}, anchor=north west,
  x={(0.699*\u,0.154*\u)}, y={(-270.5*\u,101.5*\u)}, z={(0,90.2*\u)}, zmax=5,
  ztick={0,0.5,1,1.5,2,2.5,3,3.5,4,4.5,5}, point meta min=0, point meta max=4.58]
\poly{base}{(0,0,0) (1000,0,0) (1000,-2,0) (0,-2,0)}
\specks{(140,-0.25,0) (150,-0.3,0) (120,-0.4,0) (100,-0.45,0) (130,-0.53,0) (150,-0.62,0) (170,-0.33,0) (130,-0.68,0) (800,-0.9,0) (780,-0.75,0) (790,-1.0,0) (820,-1.1,0) (840,-1.2,0) (170,-1.45,0) (110,-1.3,0) (120,-1.15,0) (500,-0.6,0) (520,-0.8,0) (560,-0.4,0)}
\seg{white}{3.5}{(117,-1.517,0) (100,-1.955,0)

(60,-1.6,0) (45,-1.8,0)

(160,-1.3,0) (140,-1.42,0)

(770,-1.75,0) (750,-1.9,0)}
\poly{white}{(130,-1.42,0) (175,-1.42,0) (160,-1.55,0)}
\fin{932}{-0.31}{-0.331}{-0.35}{1.76}
\fin{935}{-0.36}{-0.38}{-0.40}{0.9}
\fin{940}{-0.41}{-0.43}{-0.45}{0.7}
\fin{810}{-0.20}{-0.214}{-0.23}{1.63}
\fin{810}{-0.25}{-0.264}{-0.28}{3.2}
\fin{803}{-0.415}{-0.429}{-0.445}{0.99}
\fin{805}{-0.465}{-0.482}{-0.50}{4.55}
\poly{white}{(805,-0.62,0) (860,-0.75,0.9) (870,-1.4,0.7) (820,-1.55,0)}
\fin{818}{-0.67}{-0.689}{-0.71}{3.86}
\fin{823}{-0.77}{-0.796}{-0.82}{1.1}
\fin{839}{-0.75}{-0.77}{-0.79}{3.97}
\fin{820}{-0.85}{-0.871}{-0.89}{1.25}
\fin{825}{-0.91}{-0.93}{-0.95}{1.35}
\fin{851}{-0.87}{-0.887}{-0.91}{3.03}
\fin{840}{-0.95}{-0.968}{-0.99}{3.14}
\fin{854}{-0.97}{-0.99}{-1.02}{3.8}
\fin{831}{-1.05}{-1.104}{-1.18}{1.93}
\fin{836}{-1.19}{-1.259}{-1.34}{1.05}
\seg{bl!70!base}{3}{(836,-1.259,1.05) (836,-1.34,0)}
\fin{828}{-1.33}{-1.395}{-1.47}{0.88}
\seg{lav}{1.8}{(805,-0.62,0) (850,-0.85,0.3) (815,-0.95,0) (860,-1.05,0.3) (820,-1.15,0) (860,-1.25,0.3) (820,-1.35,0) (850,-1.45,0.2) (815,-1.55,0)}
\seg{bl!70!base}{2.4}{(815,-0.95,0) (830,-1.2,0.12) (825,-1.45,0.04)}
\poly{lav}{(803,-1.652,1.18) (745,-1.65,0) (790,-1.93,0)}
\seg{cblue}{4}{(803,-1.652,1.18) (745,-1.65,0)}
\seg{white}{3}{(803,-1.652,0.5) (770,-1.9,0)

(745,-1.65,0) (790,-1.8,0)

(760,-1.75,0) (780,-1.98,0)

(803,-1.652,1.0) (790,-1.88,0.05)}
\fin{165}{-0.405}{-0.417}{-0.43}{1.07}
\fin{160}{-0.54}{-0.556}{-0.575}{1.63}
\fin{170}{-0.68}{-0.70}{-0.72}{0.35}
\fin{170}{-0.74}{-0.76}{-0.78}{0.25}
\fin{170}{-0.78}{-0.80}{-0.82}{0.3}
\fin{170}{-0.84}{-0.86}{-0.88}{0.35}
\fin{170}{-0.88}{-0.90}{-0.92}{0.3}
\fin{170}{-0.93}{-0.95}{-0.97}{0.22}
\fin{170}{-0.98}{-1.0}{-1.02}{0.2}
\fin{165}{-1.1}{-1.15}{-1.22}{0.35}
\fin{165}{-1.2}{-1.25}{-1.3}{0.4}
\fin{165}{-1.28}{-1.32}{-1.38}{0.38}
\fin{165}{-1.37}{-1.42}{-1.47}{0.32}
\fin{165}{-1.46}{-1.5}{-1.56}{0.25}
\fin{165}{-1.55}{-1.6}{-1.66}{0.22}
\fin{165}{-1.64}{-1.72}{-1.97}{0.2}
\frontaxes{5}
\end{axis}
\cbar{2912}{2802}{3614}{0}{4.58}{ytick={0,0.5,1,1.5,2,2.5,3,3.5,4,4.5}}
\expo{2953}{2788}{-12}\expo{1600}{2908}{-12}
\lab{1560}{3195}{1936}{3636}{2433}{3648}\ptag{1550}{3605}{(h)}
\end{tikzpicture}
\end{document}
